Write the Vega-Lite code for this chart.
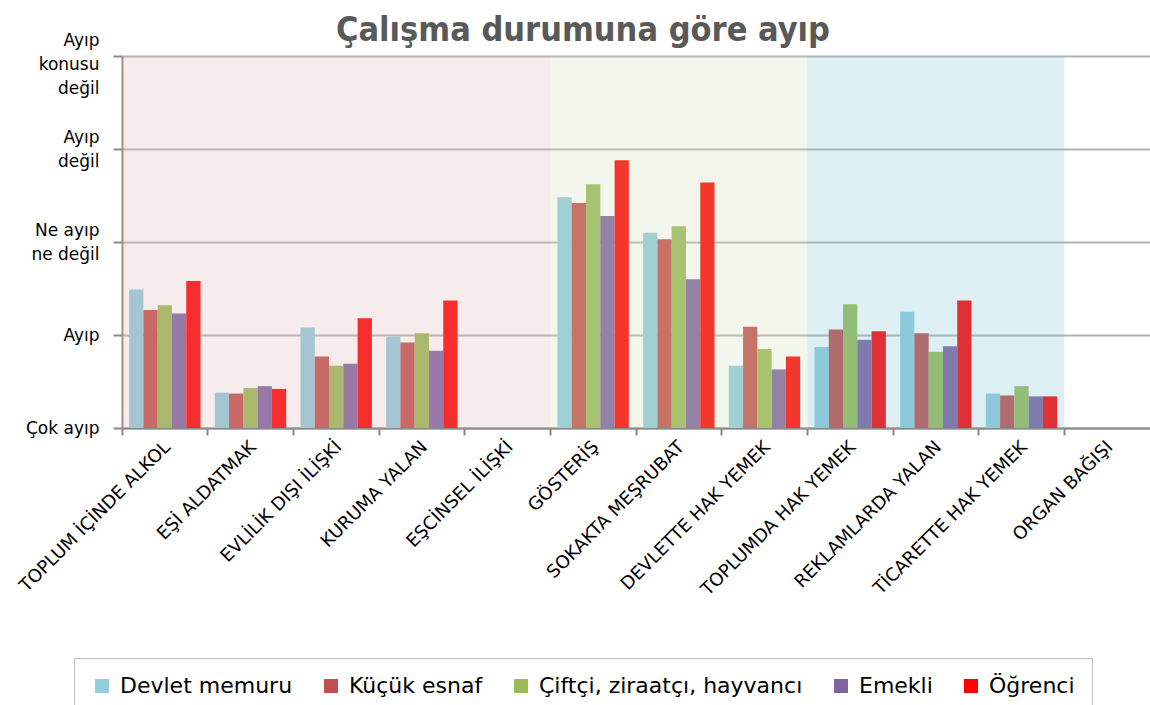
{
  "$schema": "https://vega.github.io/schema/vega-lite/v6.json",
  "autosize": {"type": "none"},
  "padding": {"left": 122, "top": 56, "right": 0, "bottom": 277},
  "width": 1028,
  "height": 372,
  "background": "white",
  "title": {
    "text": "Çalışma durumuna göre ayıp",
    "font": "DejaVu Sans Condensed",
    "fontWeight": "bold",
    "fontSize": 34,
    "color": "#595959",
    "anchor": "middle",
    "frame": "group",
    "dx": -53,
    "dy": 61,
    "baseline": "alphabetic",
    "offset": 17
  },
  "datasets": {
    "bars": [
      {"cat": "TOPLUM İÇİNDE ALKOL", "grp": "Devlet memuru", "v": 2.49},
      {"cat": "TOPLUM İÇİNDE ALKOL", "grp": "Küçük esnaf", "v": 2.27},
      {"cat": "TOPLUM İÇİNDE ALKOL", "grp": "Çiftçi, ziraatçı, hayvancı", "v": 2.32},
      {"cat": "TOPLUM İÇİNDE ALKOL", "grp": "Emekli", "v": 2.23},
      {"cat": "TOPLUM İÇİNDE ALKOL", "grp": "Öğrenci", "v": 2.58},
      {"cat": "EŞİ ALDATMAK", "grp": "Devlet memuru", "v": 1.38},
      {"cat": "EŞİ ALDATMAK", "grp": "Küçük esnaf", "v": 1.37},
      {"cat": "EŞİ ALDATMAK", "grp": "Çiftçi, ziraatçı, hayvancı", "v": 1.43},
      {"cat": "EŞİ ALDATMAK", "grp": "Emekli", "v": 1.45},
      {"cat": "EŞİ ALDATMAK", "grp": "Öğrenci", "v": 1.42},
      {"cat": "EVLİLİK DIŞI İLİŞKİ", "grp": "Devlet memuru", "v": 2.08},
      {"cat": "EVLİLİK DIŞI İLİŞKİ", "grp": "Küçük esnaf", "v": 1.77},
      {"cat": "EVLİLİK DIŞI İLİŞKİ", "grp": "Çiftçi, ziraatçı, hayvancı", "v": 1.67},
      {"cat": "EVLİLİK DIŞI İLİŞKİ", "grp": "Emekli", "v": 1.69},
      {"cat": "EVLİLİK DIŞI İLİŞKİ", "grp": "Öğrenci", "v": 2.18},
      {"cat": "KURUMA YALAN", "grp": "Devlet memuru", "v": 1.98},
      {"cat": "KURUMA YALAN", "grp": "Küçük esnaf", "v": 1.92},
      {"cat": "KURUMA YALAN", "grp": "Çiftçi, ziraatçı, hayvancı", "v": 2.02},
      {"cat": "KURUMA YALAN", "grp": "Emekli", "v": 1.83},
      {"cat": "KURUMA YALAN", "grp": "Öğrenci", "v": 2.37},
      {"cat": "GÖSTERİŞ", "grp": "Devlet memuru", "v": 3.48},
      {"cat": "GÖSTERİŞ", "grp": "Küçük esnaf", "v": 3.42},
      {"cat": "GÖSTERİŞ", "grp": "Çiftçi, ziraatçı, hayvancı", "v": 3.62},
      {"cat": "GÖSTERİŞ", "grp": "Emekli", "v": 3.28},
      {"cat": "GÖSTERİŞ", "grp": "Öğrenci", "v": 3.88},
      {"cat": "SOKAKTA MEŞRUBAT", "grp": "Devlet memuru", "v": 3.10},
      {"cat": "SOKAKTA MEŞRUBAT", "grp": "Küçük esnaf", "v": 3.03},
      {"cat": "SOKAKTA MEŞRUBAT", "grp": "Çiftçi, ziraatçı, hayvancı", "v": 3.17},
      {"cat": "SOKAKTA MEŞRUBAT", "grp": "Emekli", "v": 2.60},
      {"cat": "SOKAKTA MEŞRUBAT", "grp": "Öğrenci", "v": 3.64},
      {"cat": "DEVLETTE HAK YEMEK", "grp": "Devlet memuru", "v": 1.67},
      {"cat": "DEVLETTE HAK YEMEK", "grp": "Küçük esnaf", "v": 2.09},
      {"cat": "DEVLETTE HAK YEMEK", "grp": "Çiftçi, ziraatçı, hayvancı", "v": 1.85},
      {"cat": "DEVLETTE HAK YEMEK", "grp": "Emekli", "v": 1.63},
      {"cat": "DEVLETTE HAK YEMEK", "grp": "Öğrenci", "v": 1.77},
      {"cat": "TOPLUMDA HAK YEMEK", "grp": "Devlet memuru", "v": 1.87},
      {"cat": "TOPLUMDA HAK YEMEK", "grp": "Küçük esnaf", "v": 2.06},
      {"cat": "TOPLUMDA HAK YEMEK", "grp": "Çiftçi, ziraatçı, hayvancı", "v": 2.33},
      {"cat": "TOPLUMDA HAK YEMEK", "grp": "Emekli", "v": 1.95},
      {"cat": "TOPLUMDA HAK YEMEK", "grp": "Öğrenci", "v": 2.04},
      {"cat": "REKLAMLARDA YALAN", "grp": "Devlet memuru", "v": 2.25},
      {"cat": "REKLAMLARDA YALAN", "grp": "Küçük esnaf", "v": 2.02},
      {"cat": "REKLAMLARDA YALAN", "grp": "Çiftçi, ziraatçı, hayvancı", "v": 1.82},
      {"cat": "REKLAMLARDA YALAN", "grp": "Emekli", "v": 1.88},
      {"cat": "REKLAMLARDA YALAN", "grp": "Öğrenci", "v": 2.37},
      {"cat": "TİCARETTE HAK YEMEK", "grp": "Devlet memuru", "v": 1.37},
      {"cat": "TİCARETTE HAK YEMEK", "grp": "Küçük esnaf", "v": 1.35},
      {"cat": "TİCARETTE HAK YEMEK", "grp": "Çiftçi, ziraatçı, hayvancı", "v": 1.45},
      {"cat": "TİCARETTE HAK YEMEK", "grp": "Emekli", "v": 1.34},
      {"cat": "TİCARETTE HAK YEMEK", "grp": "Öğrenci", "v": 1.34}
    ],
    "regions": [
      {"cat": "TOPLUM İÇİNDE ALKOL", "region": "A"},
      {"cat": "EŞİ ALDATMAK", "region": "A"},
      {"cat": "EVLİLİK DIŞI İLİŞKİ", "region": "A"},
      {"cat": "KURUMA YALAN", "region": "A"},
      {"cat": "EŞCİNSEL İLİŞKİ", "region": "A"},
      {"cat": "GÖSTERİŞ", "region": "B"},
      {"cat": "SOKAKTA MEŞRUBAT", "region": "B"},
      {"cat": "DEVLETTE HAK YEMEK", "region": "B"},
      {"cat": "TOPLUMDA HAK YEMEK", "region": "C"},
      {"cat": "REKLAMLARDA YALAN", "region": "C"},
      {"cat": "TİCARETTE HAK YEMEK", "region": "C"}
    ]
  },
  "encoding": {
    "x": {
      "field": "cat",
      "type": "nominal",
      "title": null,
      "scale": {
        "domain": ["TOPLUM İÇİNDE ALKOL", "EŞİ ALDATMAK", "EVLİLİK DIŞI İLİŞKİ", "KURUMA YALAN", "EŞCİNSEL İLİŞKİ", "GÖSTERİŞ", "SOKAKTA MEŞRUBAT", "DEVLETTE HAK YEMEK", "TOPLUMDA HAK YEMEK", "REKLAMLARDA YALAN", "TİCARETTE HAK YEMEK", "ORGAN BAĞIŞI"],
        "paddingInner": 0,
        "paddingOuter": 0
      },
      "axis": {
        "bandPosition": 0,
        "labelOffset": 3,
        "labelAngle": -45,
        "labelAlign": "right",
        "labelBaseline": "middle",
        "labelFont": "DejaVu Sans",
        "labelFontSize": 18,
        "labelColor": "#000000",
        "labelPadding": 9,
        "labelOverlap": false,
        "labelLimit": 400,
        "tickSize": 7,
        "tickWidth": 2,
        "tickColor": "#888888",
        "domainColor": "#888888",
        "domainWidth": 2,
        "grid": false
      }
    }
  },
  "layer": [
    {
      "data": {"name": "bars"},
      "mark": {"type": "bar"},
      "encoding": {
        "xOffset": {
          "field": "grp",
          "type": "nominal",
          "scale": {
            "domain": ["Devlet memuru", "Küçük esnaf", "Çiftçi, ziraatçı, hayvancı", "Emekli", "Öğrenci"],
            "paddingInner": 0,
            "paddingOuter": 0.5
          }
        },
        "y": {
          "field": "v",
          "type": "quantitative",
          "title": null,
          "scale": {"domain": [1, 5], "zero": false, "nice": false},
          "axis": {
            "values": [1, 2, 3, 4, 5],
            "labelExpr": "datum.value == 5 ? ['Ayıp', 'konusu', 'değil'] : datum.value == 4 ? ['Ayıp', 'değil'] : datum.value == 3 ? ['Ne ayıp', 'ne değil'] : datum.value == 2 ? 'Ayıp' : 'Çok ayıp'",
            "labelFont": "DejaVu Sans",
            "labelFontSize": 17,
            "labelColor": "#000000",
            "labelLineHeight": 24,
            "labelAlign": "right",
            "labelBaseline": "middle",
            "labelOffset": {"condition": [{"test": "datum.value == 5", "value": -16}, {"test": "datum.value >= 3", "value": -12}], "value": 0},
            "labelPadding": 14,
            "tickSize": 9,
            "tickWidth": 2,
            "tickColor": "#888888",
            "domainColor": "#888888",
            "domainWidth": 2,
            "grid": true,
            "gridColor": "#B4B4B4",
            "gridWidth": 2
          }
        },
        "y2": {"datum": 1},
        "color": {
          "field": "grp",
          "type": "nominal",
          "scale": {
            "domain": ["Devlet memuru", "Küçük esnaf", "Çiftçi, ziraatçı, hayvancı", "Emekli", "Öğrenci"],
            "range": ["#92CDDC", "#C0504D", "#9BBB59", "#8064A2", "#FF0000"]
          },
          "legend": {
            "title": null,
            "orient": "none",
            "direction": "horizontal",
            "columns": 5,
            "gridAlign": "none",
            "legendX": -48,
            "legendY": 602,
            "padding": 17,
            "strokeColor": "#BFBFBF",
            "fillColor": "#FFFFFF",
            "symbolType": "square",
            "symbolSize": 196,
            "symbolStrokeWidth": 0,
            "symbolOpacity": 1,
            "labelFont": "DejaVu Sans",
            "labelFontSize": 22,
            "labelColor": "#000000",
            "labelOffset": 7,
            "labelLimit": 500,
            "columnPadding": 27
          }
        }
      }
    },
    {
      "data": {"name": "regions"},
      "mark": {"type": "rect", "fillOpacity": 0.25},
      "encoding": {
        "y": {"datum": 5, "type": "quantitative"},
        "y2": {"datum": 1},
        "fill": {
          "field": "region",
          "type": "nominal",
          "scale": {"domain": ["A", "B", "C"], "range": ["#DBB4B4", "#CFDBB3", "#7BBFD3"]},
          "legend": null
        }
      }
    }
  ],
  "config": {
    "view": {"stroke": null}
  }
}
